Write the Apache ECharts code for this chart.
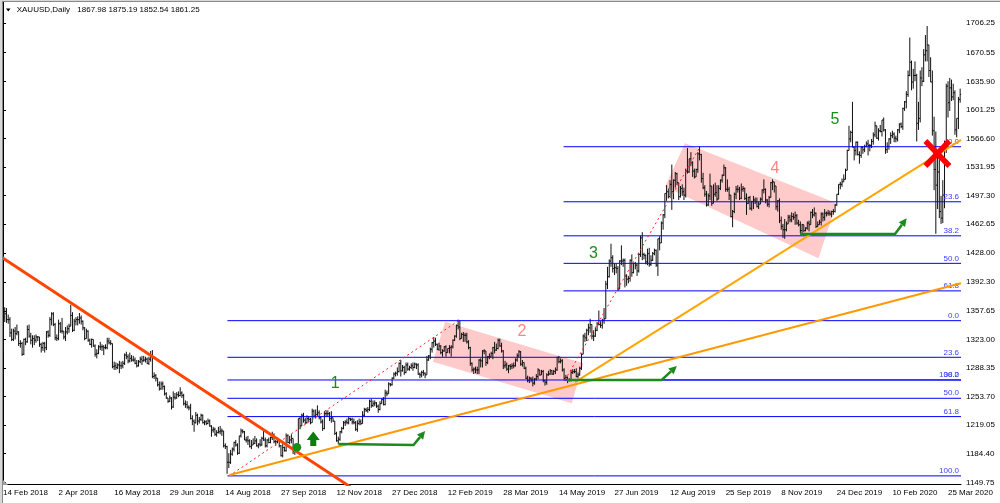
<!DOCTYPE html>
<html><head><meta charset="utf-8">
<script src="https://cdn.jsdelivr.net/npm/echarts@6/dist/echarts.min.js"></script>
<style>html,body{margin:0;padding:0;background:#fff;overflow:hidden}#c{width:1000px;height:503px}</style>
</head><body><div id="c"></div>
<script>
// ---------- DATA ----------
const startDate = '2018-02-14';
const endDate = '2020-04-03';
const holidays = ['2018-03-30','2018-12-25','2019-01-01','2019-04-19','2019-12-25','2020-01-01'];
const titleSymbol = 'XAUUSD,Daily';
const titleQuote = '1867.98 1875.19 1852.54 1861.25';
const firstOpen = 1330;

const close = [
1350,1354,1347,
1347,1331,1323,1333,1330, 1332,1318,1318,1305,1323, 1320,1335,1327,1322,1324, 1322,1326,1326,1317,1313,
1318,1313,1332,1328,1347, 1354,1341,1325,1324, 1342,1333,1333,1326,1332, 1336,1339,1352,1334,1345,
1347,1347,1349,1345,1337, 1324,1333,1322,1317,1323, 1315,1305,1306,1314,1314, 1314,1313,1313,1321,1319,
1318,1290,1291,1289,1292, 1291,1291,1294,1304,1302, 1297,1300,1298,1298,1294, 1291,1296,1299,1297,1298,
1299,1294,1299,1303,1278, 1279,1276,1268,1263,1269, 1266,1257,1252,1248,1252, 1241,1253,1252,1256,1255,
1258,1255,1245,1244,1241, 1240,1227,1224,1222,1231, 1224,1226,1231,1222,1223, 1221,1224,1218,1213,1214,
1208,1210,1211,1212,1212, 1194,1193,1174,1174,1184, 1190,1198,1195,1185,1206, 1212,1211,1201,1201,1200,
1193,1195,1197,1200,1194, 1196,1195,1203,1201,1194, 1201,1198,1204,1207,1199, 1199,1201,1194,1182,1192,
1188,1206,1198,1201,1203, 1188,1190,1194,1227,1218, 1231,1225,1222,1227,1226, 1222,1236,1230,1232,1234,
1228,1223,1215,1233,1233, 1233,1227,1228,1224,1209, 1200,1202,1211,1215,1222, 1223,1222,1227,1226,1223,
1222,1214,1221,1223,1221, 1231,1238,1237,1238,1248, 1243,1245,1246,1242,1238, 1245,1250,1244,1258,1257,
1269,1268,1276,1281, 1282,1284,1294,1285,
1289,1283,1292,1287,1289, 1291,1289,1293,1292,1281, 1280,1283,1282,1280,1298, 1303,1311,1319,1321,1317,
1311,1315,1307,1309,1314, 1307,1312,1313,1314,1322, 1327,1340,1338,1324,1329, 1328,1328,1320,1313,1294,
1286,1287,1286,1286,1298, 1297,1309,1309,1295,1302, 1302,1306,1313,1310,1312, 1322,1315,1309,1291,1292,
1287,1291,1290,1291,1291, 1298,1303,1308,1293,1295, 1288,1276,1273,1276, 1274,1270,1275,1278,1286,
1280,1284,1273,1271,1280, 1281,1285,1281,1284,1286, 1301,1296,1297,1286,1276, 1277,1273,1274,1283,1284,
1284,1278,1280,1288,1305, 1327,1325,1334,1337,1341, 1327,1327,1334,1342,1341, 1340,1346,1348,1390,1399,
1418,1422,1409,1410,1409, 1384,1418,1418,1419,1400, 1396,1397,1419,1404,1415, 1413,1406,1426,1446,1426,
1425,1417,1427,1414,1419, 1427,1431,1413,1445,1440, 1464,1474,1500,1502,1496, 1511,1502,1516,1524,1513,
1496,1506,1502,1498,1527, 1526,1542,1537,1527,1520, 1529,1548,1547,1518,1507, 1499,1486,1497,1509,1488,
1499,1501,1493,1506,1516, 1522,1531,1505,1505,1498, 1472,1478,1499,1505,1505, 1494,1505,1506,1494,1488,
1495,1482,1490,1492,1490, 1484,1487,1493,1504,1505, 1492,1487,1495,1513,1514, 1509,1484,1491,1467,1460,
1456,1456,1463,1471,1468, 1472,1471,1473,1464,1462, 1455,1462,1455,1458,1464, 1462,1477,1474,1476,1460,
1462,1465,1475,1471,1476, 1476,1476,1475,1478,1478, 1486,1499,1511,1511, 1514,1517,1528,1552,
1566,1574,1556,1552,1562, 1547,1546,1556,1553,1557, 1560,1558,1558,1563,1571, 1582,1567,1576,1575,1589,
1577,1553,1557,1566,1570, 1572,1567,1566,1577,1584, 1581,1603,1611,1620,1643, 1659,1635,1643,1643,1585,
1591,1640,1636,1668,1673, 1680,1649,1635,1576,1529, 1510,1526,1478,1470,1498, 1554,1630,1610,1628,1617,
1622,1577,1591,1614,1620
];
const high = [
1355,1362,1361,
1353,1350,1336,1336,1338, 1341,1333,1322,1320,1324, 1325,1340,1341,1331,1328, 1328,1329,1327,1326,1319,
1320,1320,1333,1334,1350, 1356,1356,1343,1329, 1347,1344,1349,1333,1338, 1340,1342,1365,1356,1348,
1350,1351,1355,1352,1346, 1338,1336,1334,1324,1324, 1323,1317,1311,1316,1320, 1317,1316,1317,1325,1325,
1322,1318,1296,1295,1294, 1297,1296,1297,1306,1308, 1305,1307,1304,1303,1301, 1298,1298,1302,1303,1303,
1302,1301,1302,1309,1310, 1283,1281,1275,1272,1272, 1272,1267,1259,1252,1255, 1253,1260,1258,1259,1260,
1265,1260,1257,1249,1248, 1243,1245,1231,1226,1235, 1233,1229,1233,1232,1225, 1225,1227,1226,1219,1217,
1216,1213,1217,1218,1215, 1210,1197,1194,1185,1189, 1192,1199,1201,1197,1206, 1215,1214,1212,1205,1206,
1202,1201,1203,1206,1203, 1197,1202,1205,1212,1204, 1202,1204,1205,1211,1209, 1201,1204,1202,1195,1196,
1193,1209,1208,1206,1208, 1203,1192,1196,1227,1230, 1233,1234,1228,1231,1230, 1228,1239,1238,1238,1243,
1237,1230,1226,1236,1237, 1237,1235,1236,1228,1224, 1211,1205,1212,1217,1224, 1225,1227,1229,1228,1228,
1227,1224,1225,1227,1226, 1236,1240,1240,1241,1250, 1251,1249,1249,1247,1244, 1248,1251,1253,1262,1261,
1271,1270,1277,1283, 1284,1289,1295,1298,
1292,1291,1295,1295,1291, 1294,1295,1295,1294,1294, 1283,1285,1286,1283,1303, 1304,1313,1320,1326,1325,
1318,1319,1316,1311,1315, 1316,1312,1316,1316,1323, 1328,1341,1347,1346,1331, 1332,1331,1331,1322,1314,
1295,1289,1290,1290,1299, 1300,1310,1311,1309,1303, 1306,1308,1314,1320,1318, 1324,1324,1319,1310,1297,
1295,1292,1293,1294,1295, 1300,1306,1310,1309,1298, 1295,1290,1279,1278, 1277,1278,1276,1281,1288,
1286,1286,1286,1274,1282, 1285,1287,1286,1286,1289, 1302,1303,1300,1299,1288, 1280,1278,1276,1286,1287,
1287,1288,1283,1290,1306, 1329,1331,1336,1342,1348, 1335,1334,1337,1344,1358, 1345,1348,1361,1394,1411,
1420,1439,1425,1415,1415, 1412,1419,1437,1421,1421, 1402,1400,1420,1426,1416, 1417,1415,1428,1449,1453,
1428,1426,1433,1434,1425, 1429,1433,1432,1445,1448, 1466,1475,1500,1510,1506, 1516,1535,1517,1526,1525,
1513,1509,1511,1507,1530, 1555,1542,1550,1539,1530, 1530,1550,1557,1548,1525, 1510,1503,1500,1524,1507,
1511,1513,1510,1510,1517, 1523,1535,1532,1517,1508, 1497,1480,1501,1509,1510, 1508,1512,1509,1507,1500,
1496,1497,1491,1497,1495, 1495,1490,1495,1505,1517, 1506,1493,1497,1514,1517, 1514,1509,1492,1494,1472,
1463,1469,1466,1474,1474, 1477,1476,1478,1475,1468, 1466,1463,1462,1459,1466, 1467,1478,1481,1483,1477,
1466,1468,1477,1477,1481, 1478,1480,1479,1479,1481, 1487,1499,1511,1514, 1518,1523,1530,1553,
1582,1576,1611,1557,1563, 1563,1551,1557,1557,1559, 1563,1565,1560,1566,1574, 1587,1582,1579,1583,1589,
1592,1578,1562,1567,1574, 1576,1574,1570,1578,1585, 1586,1604,1612,1624,1649, 1689,1661,1651,1660,1645,
1611,1649,1653,1675,1692, 1703,1680,1665,1649,1593, 1575,1548,1548,1497,1516, 1564,1633,1636,1640,1638,
1633,1625,1591,1617,1627
];
const low = [
1307,1344,1343,
1342,1326,1321,1321,1323, 1328,1315,1313,1303,1304, 1316,1319,1325,1317,1313, 1316,1319,1321,1314,1307,
1309,1307,1310,1325,1326, 1340,1339,1322,1321, 1322,1331,1330,1323,1321, 1329,1331,1339,1332,1333,
1340,1340,1342,1341,1334, 1322,1324,1320,1316,1313, 1314,1302,1300,1305,1310, 1309,1304,1311,1311,1317,
1316,1288,1286,1286,1287, 1282,1287,1288,1292,1299, 1294,1295,1296,1296,1293, 1289,1290,1294,1292,1296,
1295,1293,1292,1296,1276, 1275,1272,1266,1261,1262, 1262,1255,1251,1246,1247, 1238,1240,1250,1251,1253,
1254,1252,1243,1240,1239, 1237,1226,1219,1211,1221, 1219,1221,1224,1221,1219, 1219,1220,1217,1205,1210,
1206,1205,1209,1208,1206, 1192,1190,1160,1167,1172, 1182,1187,1193,1183,1184, 1204,1209,1201,1198,1195,
1192,1190,1195,1196,1193, 1191,1193,1194,1200,1192, 1192,1197,1197,1201,1197, 1194,1197,1192,1181,1180,
1187,1187,1197,1196,1197, 1184,1183,1190,1193,1214, 1218,1222,1220,1221,1223, 1220,1222,1228,1227,1230,
1226,1221,1212,1214,1229, 1229,1224,1222,1223,1207, 1199,1196,1200,1209,1214, 1218,1220,1220,1224,1220,
1220,1212,1211,1219,1219, 1227,1229,1235,1234,1236, 1240,1241,1242,1240,1234, 1237,1245,1243,1243,1254,
1257,1266,1267,1275, 1278,1279,1283,1278,
1284,1280,1282,1285,1285, 1287,1285,1288,1287,1280, 1276,1277,1279,1276,1280, 1297,1299,1307,1313,1315,
1310,1309,1305,1302,1308, 1302,1307,1306,1302,1312, 1321,1325,1335,1322,1324, 1320,1320,1318,1311,1291,
1284,1281,1282,1281,1281, 1289,1289,1305,1291,1293, 1299,1302,1299,1306,1309, 1311,1314,1307,1287,1288,
1285,1282,1286,1287,1288, 1290,1296,1302,1291,1290, 1287,1275,1271,1270, 1271,1266,1268,1273,1275,
1279,1280,1271,1267,1268, 1279,1280,1280,1280,1281, 1285,1294,1294,1284,1275, 1274,1270,1272,1272,1281,
1282,1277,1276,1279,1286, 1305,1320,1321,1328,1331, 1323,1321,1326,1333,1340, 1337,1336,1342,1359,1384,
1398,1411,1404,1401,1403, 1382,1384,1413,1411,1386, 1388,1391,1393,1399,1403, 1408,1400,1404,1423,1419,
1420,1414,1413,1411,1412, 1418,1425,1411,1400,1431, 1441,1456,1470,1491,1494, 1496,1480,1493,1507,1510,
1492,1495,1497,1492,1495, 1524,1525,1533,1520,1518, 1520,1525,1540,1513,1505, 1496,1484,1485,1492,1485,
1496,1496,1491,1493,1504, 1513,1521,1502,1502,1492, 1471,1459,1476,1493,1501, 1492,1493,1502,1492,1474,
1487,1480,1479,1481,1487, 1483,1481,1488,1490,1500, 1488,1484,1483,1495,1504, 1501,1480,1478,1464,1456,
1446,1445,1454,1463,1465, 1465,1468,1462,1462,1460, 1452,1452,1453,1454,1456, 1454,1462,1470,1472,1458,
1459,1462,1461,1466,1467, 1472,1473,1473,1471,1474, 1477,1485,1498,1505, 1508,1515,1517,1528,
1552,1562,1556,1540,1546, 1546,1536,1543,1548,1550, 1556,1546,1551,1555,1559, 1568,1566,1564,1574,1569,
1575,1548,1549,1553,1560, 1567,1562,1562,1563,1573, 1579,1577,1600,1603,1617, 1642,1625,1627,1636,1563,
1577,1586,1630,1635,1660, 1660,1641,1639,1570,1504, 1451,1481,1470,1463,1464, 1482,1549,1592,1600,1612,
1613,1571,1568,1578,1610
];

const priceTicks = [1149.75,1184.40,1219.05,1253.70,1288.35,1323.00,1357.65,1392.30,1428.00,
  1462.65,1497.30,1531.95,1566.60,1601.25,1635.90,1670.55,1706.25];
const dateLabelEvery = 32;

// drawing objects (bar index, price)
const fibLevels = [0, 23.6, 38.2, 50, 61.8, 100];
const fibStart = [129.2, 322.7];
const fibFrom = [[130.2, 1157.5], [323.5, 1273.8]];
const fibTo   = [[262.2, 1345.7], [401.3, 1556.6]];
const downTrend = [[-1, 1422.9], [200, 1144.1]];
const upTrendLong = [[130.4, 1158.6], [551.5, 1391.1]];
const upTrendSteep = [[329.3, 1271.3], [551.5, 1564.9]];
const channels = [
  [[254.5,1344.5],[334.1,1294.0],[327.4,1245.5],[247.5,1296.0]],
  [[392.6,1560.8],[479.9,1488.0],[469.4,1421.3],[381.1,1508.1]]
];
const waveText = ['1','2','3','4','5'];
const wavePos = [[191.2,1269.8],[298.7,1332.3],[339.9,1426.5],[444.4,1530.4],[478.9,1589.8]];
const breakoutArrows = [
  [[193.1,1196.2],[236.3,1195.0],[243.0,1212.0]],
  [[324.6,1273.8],[379.2,1273.8],[387.9,1290.8]],
  [[458.8,1450.8],[513.5,1450.8],[520.2,1469.8]]
];
const signalDot = [169.2, 1192.2];
const buyArrow = [178.6, 1193.8];
const crossMark = [537.9, 1548.4];

// ---------- BUILD ----------
const MONTHS = ['Jan','Feb','Mar','Apr','May','Jun','Jul','Aug','Sep','Oct','Nov','Dec'];
function buildDates() {
  const out = [];
  let t = Date.parse(startDate + 'T00:00:00Z');
  const end = Date.parse(endDate + 'T00:00:00Z');
  while (t <= end) {
    const d = new Date(t);
    const wd = d.getUTCDay();
    const iso = d.toISOString().slice(0, 10);
    if (wd !== 0 && wd !== 6 && holidays.indexOf(iso) < 0)
      out.push(d.getUTCDate() + ' ' + MONTHS[d.getUTCMonth()] + ' ' + d.getUTCFullYear());
    t += 86400000;
  }
  return out;
}
const dates = buildDates();
if (dates.length !== close.length || high.length !== close.length || low.length !== close.length)
  console.error('length mismatch', dates.length, close.length, high.length, low.length);

const N = dates.length;
const FONT = 'Liberation Sans';
const GREEN = '#1d8a1d';
const PINK_TXT = '#ff8585';

const ohlc = close.map((c, i) => [i, i ? close[i - 1] : firstOpen, c, low[i], high[i]]);

const fibItems = [];
fibStart.forEach((s, f) => {
  const lo = fibFrom[f][1], hi = fibTo[f][1];
  fibLevels.forEach(l => fibItems.push({ start: s, price: hi - l / 100 * (hi - lo), text: l.toFixed(1) }));
});

const chart = echarts.init(document.getElementById('c'), null, { renderer: 'canvas' });

function lineSeries(pts, color, width, dash, z) {
  return {
    type: 'line', xAxisIndex: 1, data: pts, symbol: 'none', silent: true, z: z,
    lineStyle: { color: color, width: width, type: dash || 'solid' }, clip: true
  };
}

chart.setOption({
  animation: false,
  backgroundColor: '#fff',
  grid: { left: 1.83, right: 38.97, top: 2, bottom: 18.5, containLabel: false },
  xAxis: [{
    type: 'category', data: dates, boundaryGap: true,
    axisLine: { lineStyle: { color: '#000', width: 1 } },
    axisTick: { alignWithLabel: true, interval: dateLabelEvery - 1, length: 3, lineStyle: { color: '#000' } },
    axisLabel: { interval: dateLabelEvery - 1, align: 'left', fontSize: 8, fontFamily: FONT, color: '#000', margin: 4 },
    splitLine: { show: false }
  }, {
    type: 'value', min: -0.5, max: N - 0.5, show: false
  }],
  yAxis: {
    type: 'value', position: 'right', min: 1147.08, max: 1732.06, scale: true,
    axisLine: { show: true, lineStyle: { color: '#000', width: 1 } },
    axisTick: { show: true, length: 3, customValues: priceTicks, lineStyle: { color: '#000' } },
    axisLabel: { customValues: priceTicks, formatter: v => Number(v).toFixed(2), fontSize: 8, fontFamily: FONT, color: '#000', margin: 5 },
    splitLine: { show: false }
  },
  series: [
    { // channels
      type: 'custom', xAxisIndex: 1, z: 1, silent: true,
      data: channels.map((c, k) => [c[0][0], c[0][1], k]),
      renderItem: (params, api) => {
        const k = api.value(2);
        return { type: 'polygon', shape: { points: channels[k].map(p => api.coord(p)) },
          style: { fill: '#ffcaca', stroke: null } };
      }
    },
    { // OHLC bars
      type: 'custom', xAxisIndex: 0, z: 2, silent: true,
      data: ohlc, encode: { x: 0, y: [1, 2, 3, 4] },
      renderItem: (params, api) => {
        const i = api.value(0);
        const pO = api.coord([i, api.value(1)]), pC = api.coord([i, api.value(2)]);
        const pL = api.coord([i, api.value(3)]), pH = api.coord([i, api.value(4)]);
        const x = pO[0];
        const top = Math.min(pH[1], pO[1], pC[1]), bot = Math.max(pL[1], pO[1], pC[1]);
        const st = { stroke: '#111', lineWidth: 1 };
        return { type: 'group', children: [
          { type: 'line', shape: { x1: x, y1: top, x2: x, y2: bot }, style: st },
          { type: 'line', shape: { x1: x - 1, y1: pO[1], x2: x, y2: pO[1] }, style: st },
          { type: 'line', shape: { x1: x, y1: pC[1], x2: x + 1, y2: pC[1] }, style: st }
        ] };
      }
    },
    { // fibonacci levels
      type: 'custom', xAxisIndex: 1, z: 3, silent: true,
      data: fibItems.map((f, k) => [f.start, f.price, k]),
      renderItem: (params, api) => {
        const it = fibItems[api.value(2)];
        const p = api.coord([it.start, it.price]);
        const right = params.coordSys.x + params.coordSys.width;
        return { type: 'group', children: [
          { type: 'line', shape: { x1: p[0], y1: p[1], x2: right, y2: p[1] }, style: { stroke: '#0000ff', lineWidth: 1 } },
          { type: 'text', x: right - 2, y: p[1] - 1, style: { text: it.text, fill: '#4040ff', fontSize: 8, fontFamily: FONT, align: 'right', verticalAlign: 'bottom' } }
        ] };
      }
    },
    lineSeries([fibFrom[0], fibTo[0]], '#ff2020', 1, [2, 3], 3),
    lineSeries([fibFrom[1], fibTo[1]], '#ff2020', 1, [2, 3], 3),
    lineSeries(downTrend, '#ff4500', 3, null, 4),
    lineSeries(upTrendLong, '#ff9900', 2, null, 4),
    lineSeries(upTrendSteep, '#ffa500', 2, null, 4),
    { // green breakout arrows
      type: 'custom', xAxisIndex: 1, z: 5, silent: true,
      data: breakoutArrows.map((a, k) => [a[0][0], a[0][1], k]),
      renderItem: (params, api) => {
        const pts = breakoutArrows[api.value(2)].map(p => api.coord(p));
        const a = pts[pts.length - 2], b = pts[pts.length - 1];
        const dx = b[0] - a[0], dy = b[1] - a[1], len = Math.hypot(dx, dy);
        const ux = dx / len, uy = dy / len, L = 8, W = 4;
        const base = [b[0] - ux * L, b[1] - uy * L];
        return { type: 'group', children: [
          { type: 'polyline', shape: { points: pts.slice(0, -1).concat([base]) }, style: { stroke: GREEN, lineWidth: 2.5, fill: null } },
          { type: 'polygon', shape: { points: [b, [base[0] - uy * W, base[1] + ux * W], [base[0] + uy * W, base[1] - ux * W]] }, style: { fill: GREEN } }
        ] };
      }
    },
    { // wave labels, dot, buy arrow, cross
      type: 'custom', xAxisIndex: 1, z: 6, silent: true,
      data: [[0, 0, 0]],
      renderItem: (params, api) => {
        const kids = [];
        wavePos.forEach((p, k) => {
          const c = api.coord(p);
          kids.push({ type: 'text', x: c[0], y: c[1], style: { text: waveText[k], fill: k % 2 === 0 ? GREEN : PINK_TXT,
            fontSize: 16, fontFamily: FONT, align: 'center', verticalAlign: 'middle' } });
        });
        const d = api.coord(signalDot);
        kids.push({ type: 'circle', shape: { cx: d[0], cy: d[1], r: 4.3 }, style: { fill: '#1a8c1a' } });
        const b = api.coord(buyArrow), bx = b[0], by = b[1];
        kids.push({ type: 'polygon', shape: { points: [[bx - 3, by], [bx + 3, by], [bx + 3, by - 6], [bx + 6.5, by - 6], [bx, by - 14.5], [bx - 6.5, by - 6], [bx - 3, by - 6]] }, style: { fill: '#0c7c0c' } });
        const x = api.coord(crossMark);
        kids.push({ type: 'line', shape: { x1: x[0] - 12, y1: x[1] - 12.5, x2: x[0] + 12, y2: x[1] + 12.5 }, style: { stroke: '#ff0000', lineWidth: 5.5 } });
        kids.push({ type: 'line', shape: { x1: x[0] + 12, y1: x[1] - 12.5, x2: x[0] - 12, y2: x[1] + 12.5 }, style: { stroke: '#ff0000', lineWidth: 5.5 } });
        return { type: 'group', children: kids };
      }
    }
  ],
  graphic: [
    { type: 'rect', left: 0, top: 0, shape: { width: 2, height: 503 }, style: { fill: '#d8d8d8' }, z: 100 },
    { type: 'rect', left: 0, top: 0, shape: { width: 1000, height: 1.5 }, style: { fill: '#d8d8d8' }, z: 100 },
    { type: 'line', shape: { x1: 2.5, y1: 1.5, x2: 2.5, y2: 503 }, style: { stroke: '#8a8a8a', lineWidth: 1 }, z: 100 },
    { type: 'line', shape: { x1: 2, y1: 1.5, x2: 1000, y2: 1.5 }, style: { stroke: '#8a8a8a', lineWidth: 1 }, z: 100 },
    { type: 'polygon', shape: { points: [[3, 480], [3, 485], [8, 485]] }, style: { fill: '#a0a0a0' }, z: 100 },
    { type: 'polygon', shape: { points: [[6, 8.5], [10.5, 8.5], [8.25, 11.5]] }, style: { fill: '#000' }, z: 100 },
    { type: 'text', x: 16.7, y: 10, style: { text: titleSymbol, fontSize: 8, fontFamily: FONT, fill: '#000', verticalAlign: 'middle' }, z: 100 },
    { type: 'text', x: 77.3, y: 10, style: { text: titleQuote, fontSize: 8, fontFamily: FONT, fill: '#000', verticalAlign: 'middle' }, z: 100 }
  ]
});
</script>
</body></html>
